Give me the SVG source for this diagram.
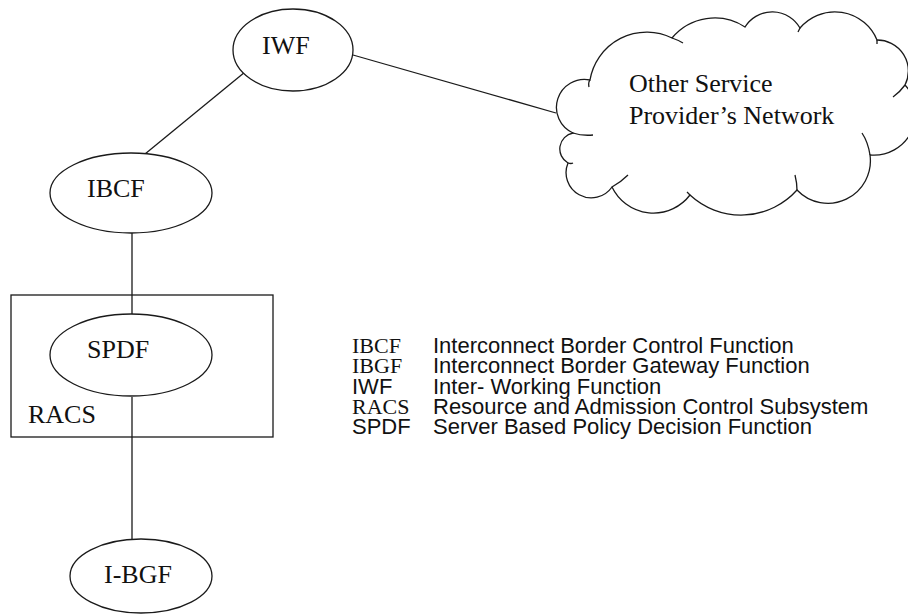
<svg xmlns="http://www.w3.org/2000/svg" width="908" height="614" viewBox="0 0 908 614">
<style>
.s{fill:none;stroke:#1a1a1a;stroke-width:1.3}
.n{fill:#fff;stroke:#1a1a1a;stroke-width:1.3}
.t{font-family:"Liberation Serif","Times New Roman",serif;font-size:26px;fill:#111}
.ls{font-family:"Liberation Serif","Times New Roman",serif;font-size:22px;fill:#111}
.la{font-family:"Liberation Sans",Arial,sans-serif;font-size:22px;fill:#111}
</style>
<rect width="908" height="614" fill="#fff"/>
<g id="connectors">
<line class="s" x1="245" y1="72" x2="145" y2="154"/>
<line class="s" x1="353" y1="55" x2="556" y2="113"/>
<line class="s" x1="132" y1="233" x2="132" y2="314"/>
<line class="s" x1="132" y1="397" x2="132" y2="540"/>
</g>
<g id="racs">
<rect class="s" x="11" y="295" width="262" height="142"/>
<text class="t" x="28" y="423">RACS</text>
</g>
<g id="cloud">
<path class="n" d="M573,133 A28,28 0 0 1 590,80 A57.5,57.5 0 0 1 672,38 A55.6,55.6 0 0 1 745,27 A32,32 0 0 1 800,28 A45.6,45.6 0 0 1 877,40 A31,31 0 0 1 905,85 A42,42 0 0 1 870,155 A42.5,42.5 0 0 1 797,190 A75,75 0 0 1 690,195 A46,46 0 0 1 612,187 A25.2,25.2 0 0 1 568,163 A16.2,16.2 0 0 1 573,133 Z"/>
<path class="s" d="M573,133 Q582,136 593,135 M590,80 Q588,82 589,87 M672,38 Q678,40 683,43 M800,28 Q799,30 798,32 M877,40 Q877,42 877,44 M905,85 Q900,92 893,97 M870,155 Q868,142 862,133 M797,190 Q797,183 795,175 M690,195 Q688,193 687,192 M612,187 Q621,182 628,175 M568,163 Q571,164 573,163"/>
<text class="t" x="629" y="92">Other Service</text>
<text class="t" x="629" y="124">Provider’s Network</text>
</g>
<g id="iwf">
<ellipse class="n" cx="293" cy="50" rx="60" ry="41"/>
<text class="t" x="262" y="54">IWF</text>
</g>
<g id="ibcf">
<ellipse class="n" cx="131" cy="193" rx="81" ry="40"/>
<text class="t" x="87" y="197">IBCF</text>
</g>
<g id="spdf">
<ellipse class="n" cx="131" cy="355" rx="81" ry="41"/>
<text class="t" x="87" y="358">SPDF</text>
</g>
<g id="ibgf">
<ellipse class="n" cx="141" cy="576" rx="71" ry="37"/>
<text class="t" x="104" y="583">I-BGF</text>
</g>
<g id="legend">
<text class="ls" x="352" y="353">IBCF</text>
<text class="la" x="433" y="353">Interconnect Border Control Function</text>
<text class="ls" x="352" y="373">IBGF</text>
<text class="la" x="433" y="373">Interconnect Border Gateway Function</text>
<text class="la" x="352" y="394">IWF</text>
<text class="la" x="433" y="394">Inter- Working Function</text>
<text class="ls" x="352" y="414">RACS</text>
<text class="la" x="433" y="414">Resource and Admission Control Subsystem</text>
<text class="la" x="352" y="434">SPDF</text>
<text class="la" x="433" y="434">Server Based Policy Decision Function</text>
</g>
</svg>
